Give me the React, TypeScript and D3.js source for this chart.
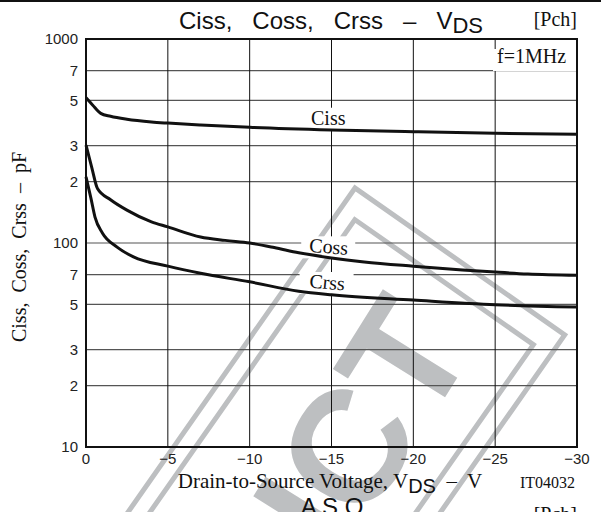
import * as d3 from "d3";

// canvas + plot box
const width = 601;
const height = 512;
const margin = { top: 39, right: 24, bottom: 65, left: 86 };

// axis ticks
const xTicks = [0, -5, -10, -15, -20, -25, -30];
const yGrid = [20, 30, 50, 70, 100, 200, 300, 500, 700];
const yTickValues = [10, 20, 30, 50, 70, 100, 200, 300, 500, 700, 1000];
const yTickText = ["10", "2", "3", "5", "7", "100", "2", "3", "5", "7", "1000"];

// capacitance curves, [VDS (V), C (pF)]
const cissData: [number, number][] = [
  [0, 515], [-0.4, 475], [-0.9, 432], [-1.5, 418], [-2.5, 404], [-4, 392],
  [-5, 387], [-7, 379], [-10, 369], [-15, 358], [-20, 351], [-25, 345], [-30, 341],
];
const cossData: [number, number][] = [
  [0, 302], [-0.35, 235], [-0.7, 185], [-1.5, 163], [-2.5, 145], [-4, 127],
  [-5, 120], [-7, 107], [-8.5, 103], [-10, 100], [-11.5, 95], [-13, 89.5],
  [-15, 84.5], [-17, 80.8], [-20, 77], [-23, 73.8], [-25, 72], [-27, 70.5], [-30, 69.5],
];
const crssData: [number, number][] = [
  [0, 211], [-0.3, 166], [-0.55, 134], [-1, 112], [-1.9, 95.5], [-2.9, 85.5],
  [-5, 77], [-7, 71], [-10, 64.5], [-13, 58], [-15, 55.7], [-20, 52.5],
  [-25, 49.8], [-30, 48.5],
];

// curve name labels, placed in data coordinates (centre x, baseline y)
const curveLabels = [
  { text: "Ciss", v: -14.8, c: 380, tilt: 0 },
  { text: "Coss", v: -14.8, c: 89, tilt: 5 },
  { text: "Crss", v: -14.7, c: 59.5, tilt: 5 },
];

const sans = "'Liberation Sans', Arial, sans-serif";
const serif = "'Liberation Serif', 'Times New Roman', serif";
const wmGray = "#bdbfc1";

export default function App() {
  const x = d3.scaleLinear([0, -30], [margin.left, width - margin.right]);
  const y = d3.scaleLog([10, 1000], [height - margin.bottom, margin.top]);

  const line = d3
    .line<[number, number]>()
    .x((d) => x(d[0]))
    .y((d) => y(d[1]))
    .curve(d3.curveMonotoneX);

  const [x0, x1] = x.range();
  const [y0, y1] = y.range();

  return (
    <svg
      width={width}
      height={height}
      style={{ position: "absolute", left: 0, top: 0, background: "#fff" }}
    >
      <rect width={width} height={height} fill="#fff" />
      <line x1={0} x2={width} y1={1} y2={1} stroke="#111" strokeWidth={2} />

      {/* watermark stamp */}
      <g fill="none" stroke={wmGray} strokeWidth={5}>
        <g transform="translate(355 188) rotate(35)">
          <rect x={0} y={0} width={256} height={600} />
          <rect x={18} y={26} width={218} height={600} />
        </g>
      </g>
      <text
        transform="translate(477 346) rotate(-58)"
        textAnchor="end"
        fontFamily={sans}
        fontWeight="bold"
        fontSize={160}
        fill={wmGray}
      >
        PRODUCT
      </text>

      {/* grid */}
      <g stroke="#555" strokeWidth={1.2}>
        {yGrid.map((v) => (
          <line key={v} x1={x0} x2={x1} y1={y(v)} y2={y(v)} />
        ))}
      </g>
      <g stroke="#111" strokeWidth={1}>
        {xTicks.slice(1, -1).map((v) => (
          <line key={v} x1={x(v)} x2={x(v)} y1={y1} y2={y0} />
        ))}
      </g>

      {/* white boxes behind labels */}
      {curveLabels.map((l) => (
        <rect
          key={l.text}
          x={x(l.v) - 27}
          y={y(l.c) - 17}
          width={54}
          height={22}
          fill="#fff"
        />
      ))}
      <rect x={493} y={49} width={x1 - 494} height={22} fill="#fff" />

      {/* curves */}
      <g fill="none" stroke="#111" strokeWidth={3} strokeLinejoin="round">
        <path d={line(cissData) ?? ""} />
        <path d={line(cossData) ?? ""} />
        <path d={line(crssData) ?? ""} />
      </g>

      {curveLabels.map((l) => (
        <text
          key={l.text}
          transform={`translate(${x(l.v)} ${y(l.c)}) rotate(${l.tilt})`}
          textAnchor="middle"
          fontFamily={serif}
          fontSize={20}
          fill="#111"
        >
          {l.text}
        </text>
      ))}

      <text x={497} y={63} fontFamily={serif} fontSize={20} fill="#111">
        f=1MHz
      </text>

      {/* frame */}
      <rect
        x={x0}
        y={y1}
        width={x1 - x0}
        height={y0 - y1}
        fill="none"
        stroke="#111"
        strokeWidth={2}
      />

      {/* y tick labels */}
      <g fontFamily={sans} fontSize={15} fill="#222" textAnchor="end">
        {yTickValues.map((v, i) => (
          <text key={v} x={x0 - 8} y={y(v)} dy="0.35em">
            {yTickText[i]}
          </text>
        ))}
      </g>

      {/* x tick labels */}
      <g fontFamily={sans} fontSize={15} fill="#222" textAnchor="middle">
        {xTicks.map((v) => (
          <text key={v} x={x(v)} y={y0 + 17}>
            {v === 0 ? "0" : `\u2212${-v}`}
          </text>
        ))}
      </g>

      {/* title */}
      <text
        x={331}
        y={29}
        textAnchor="middle"
        fontFamily={sans}
        fontSize={24}
        fill="#111"
        style={{ whiteSpace: "pre" }}
      >
        {"Ciss,   Coss,   Crss   \u2013   V"}
        <tspan dy={4} fontSize={22}>
          DS
        </tspan>
      </text>
      <text x={577} y={26} textAnchor="end" fontFamily={serif} fontSize={20} fill="#111">
        [Pch]
      </text>

      {/* y axis title */}
      <text
        transform="translate(26 247) rotate(-90)"
        textAnchor="middle"
        fontFamily={serif}
        fontSize={20}
        fill="#111"
        style={{ whiteSpace: "pre" }}
      >
        {"Ciss,  Coss,  Crss  \u2013  pF"}
      </text>

      {/* x axis title */}
      <text
        x={330}
        y={488}
        textAnchor="middle"
        fontFamily={serif}
        fontSize={21}
        fill="#111"
        style={{ whiteSpace: "pre" }}
      >
        {"Drain-to-Source Voltage, V"}
        <tspan dy={5} fontFamily={sans} fontSize={20}>
          DS
        </tspan>
        <tspan dy={-5}>{"  \u2013  V"}</tspan>
      </text>
      <text x={575} y={488} textAnchor="end" fontFamily={serif} fontSize={16} fill="#111">
        IT04032
      </text>

      {/* next chart's heading, cut off at the bottom */}
      <text x={332} y={515} textAnchor="middle" fontFamily={sans} fontSize={24} fill="#111">
        A S O
      </text>
      <text x={577} y={521} textAnchor="end" fontFamily={serif} fontSize={20} fill="#111">
        [Pch]
      </text>
    </svg>
  );
}
